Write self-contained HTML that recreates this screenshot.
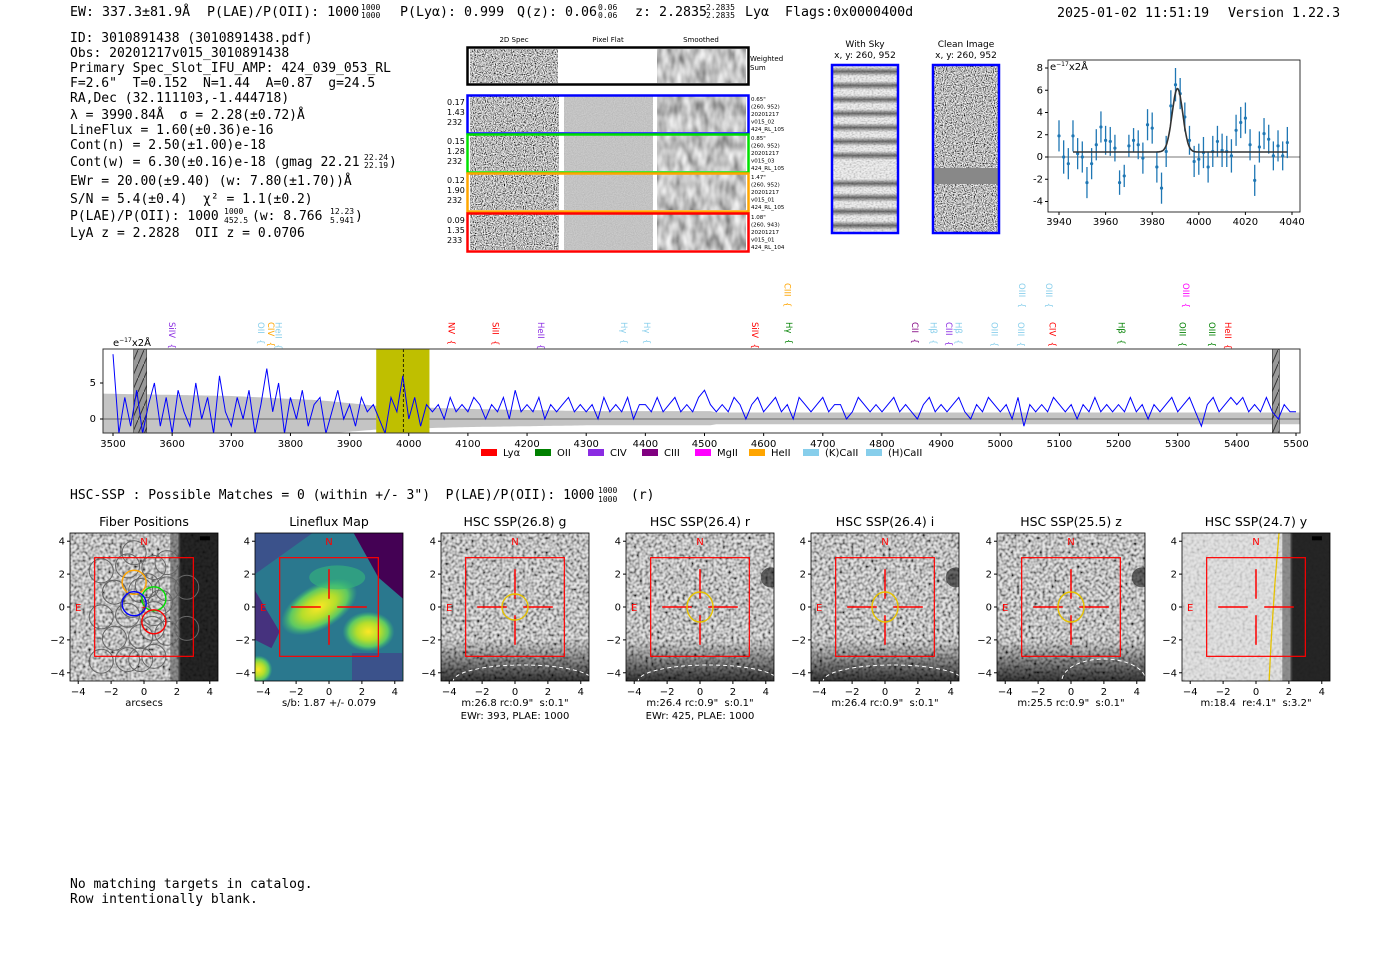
<!DOCTYPE html>
<html><head><meta charset="utf-8"><style>
html,body{margin:0;padding:0;background:#fff}
svg{display:block}
text{white-space:pre}
.mono{font-family:"DejaVu Sans Mono","Liberation Mono",monospace;font-size:13px;fill:#000}
.sans{font-family:"DejaVu Sans","Liberation Sans",sans-serif}
.tick{font-family:"DejaVu Sans","Liberation Sans",sans-serif;font-size:10px;fill:#000}
</style></head><body>
<svg id="root" width="1400" height="953" viewBox="0 0 1400 953" xmlns="http://www.w3.org/2000/svg" xml:space="preserve">
<defs>
<filter id="fine" x="0" y="0" width="100%" height="100%"><feTurbulence type="fractalNoise" baseFrequency="0.9" numOctaves="1" seed="3"/><feColorMatrix type="matrix" values="2.4 0 0 0 -0.7  2.4 0 0 0 -0.7  2.4 0 0 0 -0.7  0 0 0 0 1"/></filter>
<filter id="smooth" x="0" y="0" width="100%" height="100%"><feTurbulence type="fractalNoise" baseFrequency="0.12 0.06" numOctaves="2" seed="7"/><feColorMatrix type="matrix" values="1.1 0 0 0 0.0  1.1 0 0 0 0.0  1.1 0 0 0 0.0  0 0 0 0 1"/></filter>
<filter id="flat" x="0" y="0" width="100%" height="100%"><feTurbulence type="fractalNoise" baseFrequency="0.9" seed="2"/><feColorMatrix type="matrix" values="0.25 0 0 0 0.42  0.25 0 0 0 0.42  0.25 0 0 0 0.42  0 0 0 0 1"/></filter>
<filter id="sky" x="0" y="0" width="100%" height="100%"><feTurbulence type="fractalNoise" baseFrequency="0.5 0.7" numOctaves="1" seed="5"/><feColorMatrix type="matrix" values="1.6 0 0 0 0.0  1.6 0 0 0 0.0  1.6 0 0 0 0.0  0 0 0 0 1"/></filter>
<filter id="pix" x="0" y="0" width="100%" height="100%"><feTurbulence type="fractalNoise" baseFrequency="0.35" seed="9"/><feColorMatrix type="matrix" values="2.2 0 0 0 -0.5  2.2 0 0 0 -0.5  2.2 0 0 0 -0.5  0 0 0 0 1"/></filter>
<pattern id="hatch" width="6" height="14" patternUnits="userSpaceOnUse"><rect width="6" height="14" fill="#999"/><line x1="0" y1="14" x2="6" y2="0" stroke="#333" stroke-width="1"/></pattern>
<linearGradient id="skystripe" x1="0" y1="0" x2="0" y2="1"><stop offset="0" stop-color="#000" stop-opacity="0"/><stop offset="0.5" stop-color="#000" stop-opacity="0.55"/><stop offset="1" stop-color="#000" stop-opacity="0"/></linearGradient>
<linearGradient id="darkbottom" x1="0" y1="0" x2="0" y2="1"><stop offset="0" stop-color="#000" stop-opacity="0"/><stop offset="1" stop-color="#000" stop-opacity="0.75"/></linearGradient>
<radialGradient id="vir1"><stop offset="0" stop-color="#fde725"/><stop offset="0.45" stop-color="#b5de2b"/><stop offset="0.75" stop-color="#5ec962"/><stop offset="1" stop-color="#35b779" stop-opacity="0"/></radialGradient>
</defs>

<!-- Header -->
<g class="mono" style="font-size:13.3px">
<text x="70" y="16">EW: 337.3±81.9Å</text>
<text x="207" y="16">P(LAE)/P(OII): 1000</text>
<text x="361" y="10" style="font-size:8px">1000</text><text x="361" y="18" style="font-size:8px">1000</text>
<text x="400" y="16">P(Lyα): 0.999</text>
<text x="517" y="16">Q(z): 0.06</text>
<text x="598" y="10" style="font-size:8px">0.06</text><text x="598" y="18" style="font-size:8px">0.06</text>
<text x="635" y="16">z: 2.2835</text>
<text x="706" y="10" style="font-size:8px">2.2835</text><text x="706" y="18" style="font-size:8px">2.2835</text>
<text x="745" y="16">Lyα</text>
<text x="785" y="16">Flags:0x0000400d</text>
<text x="1057" y="17">2025-01-02 11:51:19</text>
<text x="1228" y="17">Version 1.22.3</text>
</g>

<!-- Info block -->
<g class="mono">
<text x="70" y="42">ID: 3010891438 (3010891438.pdf)</text>
<text x="70" y="57">Obs: 20201217v015_3010891438</text>
<text x="70" y="72">Primary Spec_Slot_IFU_AMP: 424_039_053_RL</text>
<text x="70" y="87">F=2.6"  T=0.152  N=1.44  A=0.87  g=24.5</text>
<text x="70" y="102">RA,Dec (32.111103,-1.444718)</text>
<text x="70" y="119">λ = 3990.84Å  σ = 2.28(±0.72)Å</text>
<text x="70" y="134">LineFlux = 1.60(±0.36)e-16</text>
<text x="70" y="149">Cont(n) = 2.50(±1.00)e-18</text>
<text x="70" y="166">Cont(w) = 6.30(±0.16)e-18 (gmag 22.21</text>
<text x="364" y="160" style="font-size:8px">22.24</text><text x="364" y="168" style="font-size:8px">22.19</text><text x="389" y="166">)</text>
<text x="70" y="185">EWr = 20.00(±9.40) (w: 7.80(±1.70))Å</text>
<text x="70" y="203">S/N = 5.4(±0.4)  χ² = 1.1(±0.2)</text>
<text x="70" y="220">P(LAE)/P(OII): 1000</text>
<text x="224" y="214" style="font-size:8px">1000</text><text x="224" y="223" style="font-size:8px">452.5</text>
<text x="252" y="220">(w: 8.766</text>
<text x="330" y="214" style="font-size:8px">12.23</text><text x="330" y="223" style="font-size:8px">5.941</text><text x="355" y="220">)</text>
<text x="70" y="237">LyA z = 2.2828  OII z = 0.0706</text>
</g>

<!-- 2D spectra cutouts -->
<g class="sans">
<text x="514" y="42" font-size="7" text-anchor="middle">2D Spec</text>
<text x="608" y="42" font-size="7" text-anchor="middle">Pixel Flat</text>
<text x="701" y="42" font-size="7" text-anchor="middle">Smoothed</text>
<g>
<rect x="470" y="49" width="88" height="34" filter="url(#fine)"/>
<rect x="657" y="49" width="89" height="34" filter="url(#smooth)"/>
<rect x="467.5" y="47.5" width="281" height="37" fill="none" stroke="#000" stroke-width="2.5"/>
<text x="750" y="61" font-size="7">Weighted</text><text x="750" y="70" font-size="7">Sum</text>
</g>
<g id="fibrows"></g>
</g>

<g class="sans">
<text x="865" y="47" font-size="9" text-anchor="middle">With Sky</text>
<text x="865" y="58" font-size="9" text-anchor="middle">x, y: 260, 952</text>
<rect x="832" y="65" width="66" height="168" fill="#ddd"/>
<rect x="832" y="65" width="66" height="168" filter="url(#sky)" opacity="0.5"/>
<g id="skystripes"></g>
<rect x="832" y="65" width="66" height="168" fill="none" stroke="#00f" stroke-width="2.5"/>
</g>
<g class="sans">
<text x="966" y="47" font-size="9" text-anchor="middle">Clean Image</text>
<text x="966" y="58" font-size="9" text-anchor="middle">x, y: 260, 952</text>
<rect x="933" y="65" width="66" height="168" filter="url(#fine)"/>
<rect x="933" y="168" width="66" height="16" fill="#888"/>
<rect x="933" y="65" width="66" height="168" fill="none" stroke="#00f" stroke-width="2.5"/>
</g>

<g id="zoomchart"></g>
<g id="specchart"></g>

<text class="mono" x="70" y="499">HSC-SSP : Possible Matches = 0 (within +/- 3")  P(LAE)/P(OII): 1000</text>
<text class="mono" x="598" y="493" style="font-size:8px">1000</text><text class="mono" x="598" y="502" style="font-size:8px">1000</text>
<text class="mono" x="631" y="499">(r)</text>

<g id="thumbs"></g>

<text class="mono" x="70" y="888">No matching targets in catalog.</text>
<text class="mono" x="70" y="903">Row intentionally blank.</text>
</svg>
<script>
const NS='http://www.w3.org/2000/svg';
function mk(tag,attrs,parent,txt){const e=document.createElementNS(NS,tag);for(const k in attrs)e.setAttribute(k,attrs[k]);if(txt!==undefined)e.textContent=txt;parent.appendChild(e);return e;}

// ---------- Fiber rows ----------
const fibColors=['#0000ff','#00e000','#ffa500','#ff0000'];
const fibStats=[['0.17','1.43','232'],['0.15','1.28','232'],['0.12','1.90','232'],['0.09','1.35','233']];
const fibInfo=[['0.65"','(260, 952)','20201217','v015_02','424_RL_105'],['0.85"','(260, 952)','20201217','v015_03','424_RL_105'],['1.47"','(260, 952)','20201217','v015_01','424_RL_105'],['1.08"','(260, 943)','20201217','v015_01','424_RL_104']];
const rowsG=document.getElementById('fibrows');
const rowY=[95,134,173,213];
for(let i=0;i<4;i++){
  const y=rowY[i],h=38;
  const g=mk('g',{},rowsG);
  
  
  mk('rect',{x:470,y:y+1,width:89,height:h-2,filter:'url(#fine)'},g);
  mk('rect',{x:564,y:y+1,width:89,height:h-2,filter:'url(#flat)'},g);
  mk('rect',{x:657,y:y+1,width:89,height:h-2,filter:'url(#smooth)'},g);
  mk('rect',{x:467.5,y:y+0.5,width:281,height:h,fill:'none',stroke:fibColors[i],'stroke-width':2.5},g);
  fibStats[i].forEach((s,j)=>mk('text',{x:447,y:y+10+j*10,'font-size':8},g,s));
  fibInfo[i].forEach((s,j)=>mk('text',{x:751,y:y+6+j*7.5,'font-size':5.5},g,s));
}
const ss=document.getElementById('skystripes');
for(let k=0;k<12;k++){ if(k===7) continue; mk('rect',{x:832,y:67+k*14,width:66,height:9,fill:'url(#skystripe)'},ss);}

// ---------- Line fit chart ----------
const fitWave=[3940,3942,3944,3946,3948,3950,3952,3954,3956,3958,3960,3962,3964,3966,3968,3970,3972,3974,3976,3978,3980,3982,3984,3986,3988,3990,3992,3994,3996,3998,4000,4002,4004,4006,4008,4010,4012,4014,4016,4018,4020,4022,4024,4026,4028,4030,4032,4034,4036,4038];
const fitFlux=[1.9,0,-0.6,1.9,0.3,0,-2.3,-0.6,1.1,2.7,1.5,1.4,0.8,-2.3,-1.7,1.0,1.5,1.1,-0.1,2.9,2.6,-0.9,-2.8,0.5,4.6,6.5,5.7,3.6,1.5,-0.4,-0.2,0.4,-0.9,0.5,1.4,0.6,0.5,0.1,2.4,3.1,3.5,1.1,-2.1,0.9,2.1,1.6,0.1,1.0,0.1,1.3];
const fitErr=[1.4,1.5,1.4,1.4,1.4,1.4,1.4,1.4,1.4,1.4,1.3,1.3,1.2,1.1,1.0,1.0,1.1,1.3,1.4,1.4,1.4,1.4,1.4,1.4,1.4,1.5,1.4,1.3,1.3,1.4,1.4,1.4,1.4,1.4,1.4,1.5,1.4,1.5,1.4,1.4,1.4,1.4,1.4,1.4,1.4,1.3,1.3,1.4,1.3,1.4];
const fitParams=[3990.84,2.28,5.7,0.45]; // center, sigma, amplitude, continuum
const fitXTicks=[3940,3960,3980,4000,4020,4040];
const fitYTicks=[-4,-2,0,2,4,6,8];
(function(){
  const g=document.getElementById('zoomchart');
  const X0=1048,X1=1300,Y0=60,Y1=212;
  const xs=w=>1059+(w-3940)*(1292-1059)/100;
  const ys=v=>157-v*(157-68)/8;
  mk('line',{x1:X0,x2:X1,y1:ys(0),y2:ys(0),stroke:'#777','stroke-width':1},g);
  for(let i=0;i<fitWave.length;i++){
    const p=mk('g',{},g);
    
    
    const x=xs(fitWave[i]);
    mk('line',{x1:x,x2:x,y1:ys(fitFlux[i]-fitErr[i]),y2:ys(fitFlux[i]+fitErr[i]),stroke:'#1f77b4','stroke-width':1.3},p);
    mk('circle',{cx:x,cy:ys(fitFlux[i]),r:1.6,fill:'#1f77b4'},p);
  }
  let d='';
  for(let w=3946;w<=4038;w+=0.25){const v=fitParams[3]+fitParams[2]*Math.exp(-0.5*Math.pow((w-fitParams[0])/fitParams[1],2));d+=(d?'L':'M')+xs(w).toFixed(1)+','+ys(v).toFixed(1);}
  const fl=mk('path',{d:d,fill:'none',stroke:'#333','stroke-width':1.6},g);
  
  
  mk('rect',{x:X0,y:Y0,width:X1-X0,height:Y1-Y0,fill:'none',stroke:'#000','stroke-width':0.8},g);
  fitXTicks.forEach(t=>{const x=xs(t);mk('line',{x1:x,x2:x,y1:Y1,y2:Y1+3,stroke:'#000'},g);const tt=mk('text',{x:x,y:Y1+13,'text-anchor':'middle',class:'tick','font-size':9},g,t);});
  fitYTicks.forEach(t=>{const y=ys(t);mk('line',{x1:X0-3,x2:X0,y1:y,y2:y,stroke:'#000'},g);mk('text',{x:X0-5,y:y+3,'text-anchor':'end',class:'tick','font-size':9},g,t);});
  const u=mk('text',{x:X0+2,y:Y0+10,class:'tick','font-size':9},g,'e');mk('tspan',{dy:-4,'font-size':6},u,'−17');mk('tspan',{dy:4},u,'x2Å');
})();

// ---------- Full spectrum ----------
const specStart=3500, specStep=10;
const specFlux=[9,-2,3,-1,4,-2,2,5,-1,3, -2,4,1,-1,5,0,3,-2,6,1, -1,3,0,4,-2,2,7,1,5,-2, 3,0,4,-1,2,3,-2,1,4,0, 2,-1,3,1,2,0,-2,3,1,6,
 0,3,-1,2,1,2,0,3,1,2, 1,3,2,0,2,1,3,0,4,1, 2,1,3,0,2,1,2,3,1,2, 1,2,0,3,1,2,1,3,0,2, 2,1,3,1,2,3,1,2,1,3,
 4,2,1,2,1,3,2,0,2,3, 1,2,3,1,2,0,3,2,1,2, 3,1,2,2,0,1,3,2,1,2, 1,2,3,1,2,1,0,2,3,1, 2,1,2,3,1,0,2,1,3,2,
 1,2,0,3,-1,2,1,2,1,3, 2,1,2,0,2,1,3,1,2,1, 2,1,3,1,2,0,2,1,2,3, 1,2,3,1,-1,2,3,1,2,3, 2,3,1,2,1,3,1,0,2,1, 1];
const errWave=[3500,3700,3850,3950,4100,4300,4510,4520,5500];
const errVal=[3.5,3.2,2.6,1.8,1.4,1.1,1.1,0.9,0.9];
const specXTicks=[3500,3600,3700,3800,3900,4000,4100,4200,4300,4400,4500,4600,4700,4800,4900,5000,5100,5200,5300,5400,5500];
const specYTicks=[0,5];
const lineNames=['SiIV','OII','CIV','HeII','NV','SiII','HeII','Hγ','Hγ','SiIV','Hγ','CIII','CII','Hβ','CIII','Hβ','OIII','OIII','OIII','OIII','CIV','Hβ','OIII','OIII','OIII','HeII'];
const lineWave=[3600,3750,3767,3780,4072,4147,4224,4364,4403,4585,4643,4640,4856,4887,4913,4929,4990,5035,5037,5082,5088,5205,5314,5308,5358,5385];
const lineColor=['#8a2be2','#87ceeb','#ffa500','#87ceeb','#ff0000','#ff0000','#8a2be2','#87ceeb','#87ceeb','#ff0000','#008000','#ffa500','#800080','#87ceeb','#8a2be2','#87ceeb','#87ceeb','#87ceeb','#87ceeb','#87ceeb','#ff0000','#008000','#ff00ff','#008000','#008000','#ff0000'];
const lineRow=[0,0,0,0,0,0,0,0,0,0,0,1,0,0,0,0,0,0,1,1,0,0,1,0,0,0];
const legendNames=['Lyα','OII','CIV','CIII','MgII','HeII','(K)CaII','(H)CaII'];
const legendColors=['#ff0000','#008000','#8a2be2','#800080','#ff00ff','#ffa500','#87ceeb','#87ceeb'];
(function(){
  const g=document.getElementById('specchart');
  const X0=103,X1=1300,Y0=349,Y1=433;
  const xs=w=>113+(w-3500)*(1296-113)/2000;
  const ys=v=>419-v*7.2;
  const clip=mk('clipPath',{id:'specclip'},g);mk('rect',{x:X0,y:Y0,width:X1-X0,height:Y1-Y0},clip);
  const inner=mk('g',{'clip-path':'url(#specclip)'},g);
  function errAt(w){for(let i=0;i<errWave.length-1;i++){if(w<=errWave[i+1]){const t=(w-errWave[i])/(errWave[i+1]-errWave[i]);return errVal[i]+t*(errVal[i+1]-errVal[i]);}}return errVal[errVal.length-1];}
  let up='',dn='';
  for(let w=3480;w<=5520;w+=5){up+=(up?'L':'M')+xs(w).toFixed(1)+','+ys(errAt(w)).toFixed(1);}
  for(let w=5520;w>=3480;w-=5){dn+='L'+xs(w).toFixed(1)+','+ys(-errAt(w)*0.8).toFixed(1);}
  const band=mk('path',{d:up+dn+'Z',fill:'#c4c4c4'},inner);
  
  mk('line',{x1:X0,x2:X1,y1:ys(0),y2:ys(0),stroke:'#666','stroke-width':1},inner);
  const yb=mk('rect',{x:xs(3945),y:Y0,width:xs(4035)-xs(3945),height:Y1-Y0,fill:'#bfbf00'},inner);
  
  mk('line',{x1:xs(3990.84),x2:xs(3990.84),y1:Y0,y2:Y1,stroke:'#000','stroke-dasharray':'3,2','stroke-width':0.8},inner);
  [[3535,3557],[5460,5472]].forEach(r=>{const m=mk('rect',{x:xs(r[0]),y:Y0,width:xs(r[1])-xs(r[0]),height:Y1-Y0,fill:'url(#hatch)',stroke:'#333','stroke-width':0.6},inner);});
  let d='';
  specFlux.forEach((v,i)=>{d+=(i?'L':'M')+xs(specStart+i*specStep).toFixed(1)+','+ys(v).toFixed(1);});
  const sp=mk('path',{d:d,fill:'none',stroke:'#0000ff','stroke-width':1},inner);
  
  mk('rect',{x:X0,y:Y0,width:X1-X0,height:Y1-Y0,fill:'none',stroke:'#333','stroke-width':1},g);
  specXTicks.forEach(t=>{const x=xs(t);mk('line',{x1:x,x2:x,y1:Y1,y2:Y1+3,stroke:'#000'},g);const tt=mk('text',{x:x,y:Y1+14,'text-anchor':'middle',class:'tick','font-size':9.5},g,t);});
  specYTicks.forEach(t=>{const y=ys(t);mk('line',{x1:X0-3,x2:X0,y1:y,y2:y,stroke:'#000'},g);mk('text',{x:X0-7,y:y+3,'text-anchor':'end',class:'tick','font-size':9.5},g,t);});
  const u=mk('text',{x:113,y:346,class:'tick','font-size':9.5},g,'e');mk('tspan',{dy:-4,'font-size':6},u,'−17');mk('tspan',{dy:4},u,'x2Å');
  lineNames.forEach((n,i)=>{
    const x=xs(lineWave[i]), y=lineRow[i]?283:322;
    const lt=mk('text',{x:0,y:0,transform:`translate(${x-3},${y}) rotate(90)`,'font-size':8.5,fill:lineColor[i],class:'sans'},g,n+'  {');
    
  });
  const lg=mk('g',{},g);
  const lx=[481,535,588,642,695,749,803,866];
  legendNames.forEach((n,i)=>{mk('rect',{x:lx[i],y:449,width:16,height:7,fill:legendColors[i]},lg);mk('text',{x:lx[i]+22,y:456,class:'tick','font-size':7.5},lg,n);});
})();

// ---------- Thumbnails ----------
const thumbTitles=['Fiber Positions','Lineflux Map','HSC SSP(26.8) g','HSC SSP(26.4) r','HSC SSP(26.4) i','HSC SSP(25.5) z','HSC SSP(24.7) y'];
const thumbSub1=['arcsecs','s/b: 1.87 +/- 0.079','m:26.8 rc:0.9"  s:0.1"','m:26.4 rc:0.9"  s:0.1"','m:26.4 rc:0.9"  s:0.1"','m:25.5 rc:0.9"  s:0.1"','m:18.4  re:4.1"  s:3.2"'];
const thumbSub2=['','','EWr: 393, PLAE: 1000','EWr: 425, PLAE: 1000','','',''];
const thumbTicks=[-4,-2,0,2,4];
const fiberX=[-2.6,-1,0.6,-1.8,-0.2,1.4,2.6,-2.6,-1,0.6,-1.8,-0.2,1.4,2.6,-2.6,-1,0.6,-1.8,-0.2,1.4,-0.7,0.2,1.0,0.5,-0.6];
const fiberY=[2.2,2.5,2.4,0.9,1.0,1.1,1.2,-0.6,-0.5,-0.4,-1.9,-1.8,-1.6,-1.3,-3.3,-3.2,-3.0,0.9,-3.2,2.7,0.1,1.3,0.3,-1.3,3.3];
(function(){
  const g=document.getElementById('thumbs');
  const lefts=[70,255,441,626,811,997,1182], W=148, T=533, H=148;
  lefts.forEach((L,k)=>{
    const p=mk('g',{},g);
    
    
    const xs=v=>L+(v+4.5)*W/9, ys=v=>T+(4.5-v)*H/9;
    const cid='tc'+k; const c=mk('clipPath',{id:cid},p); mk('rect',{x:L,y:T,width:W,height:H},c);
    const im=mk('g',{'clip-path':`url(#${cid})`},p);
    if(k===1){
      mk('rect',{x:L,y:T,width:W,height:H,fill:'#2a788e'},im);
      mk('polygon',{points:`${L},${T} ${xs(-1)},${T} ${L},${ys(2)}`,fill:'#3b528b'},im);
      mk('polygon',{points:`${xs(1.5)},${T} ${L+W},${T} ${L+W},${ys(0.5)} ${xs(3)},${ys(1.8)}`,fill:'#440154'},im);
      mk('polygon',{points:`${L},${ys(1)} ${xs(-3)},${ys(-1.5)} ${xs(-3.5)},${ys(-2.5)} ${L},${ys(-2)}`,fill:'#46327e'},im);
      mk('rect',{x:xs(1.4),y:ys(-2.8),width:50,height:40,fill:'#3b528b'},im);
      mk('ellipse',{cx:xs(-0.6),cy:ys(0),rx:42,ry:22,fill:'url(#vir1)',transform:`rotate(-30 ${xs(-0.6)} ${ys(0)})`},im);
      mk('ellipse',{cx:xs(2.4),cy:ys(-1.5),rx:26,ry:20,fill:'url(#vir1)'},im);
      mk('ellipse',{cx:xs(0.5),cy:ys(1.8),rx:28,ry:12,fill:'#35b779',opacity:0.6},im);
      mk('ellipse',{cx:xs(-4.3),cy:ys(-3.8),rx:14,ry:14,fill:'url(#vir1)'},im);
    } else {
      mk('rect',{x:L,y:T,width:W,height:H,fill:k===6?'#ddd':'#999'},im);
      mk('rect',{x:L,y:T,width:W,height:H,filter:'url(#pix)',opacity:k===6?0.2:0.75},im);
      if(k===0||k===6){mk('rect',{x:xs(2.1),y:T,width:W,height:H,fill:'#111',opacity:0.9},im);mk('rect',{x:xs(1.6),y:T,width:10,height:H,fill:'#555',opacity:0.6},im);mk('rect',{x:xs(3.4),y:ys(4.3),width:10,height:4,fill:'#000'},im);}
      if(k>=2&&k<=5){
        mk('rect',{x:L,y:ys(-2),width:W,height:ys(-4.5)-ys(-2),fill:'url(#darkbottom)'},im);
        if(k>=3){mk('circle',{cx:xs(4.3),cy:ys(1.8),r:10,fill:'#111',opacity:0.6},im);}
        mk('ellipse',{cx:xs(k===5?2:0.5),cy:ys(-4.5),rx:k===5?42:70,ry:k===5?22:16,fill:'none',stroke:'#fff','stroke-dasharray':'4,3','stroke-width':1},im);
      }
      if(k===0){
        fiberX.forEach((fx,i)=>mk('circle',{cx:xs(fx),cy:ys(fiberY[i]),r:12,fill:'none',stroke:'#666','stroke-width':1},im));
        [['#ffa500',-0.6,1.5],['#00e000',0.6,0.5],['#0000ff',-0.6,0.2],['#ff0000',0.6,-0.9]].forEach(f=>mk('circle',{cx:xs(f[1]),cy:ys(f[2]),r:12,fill:'none',stroke:f[0],'stroke-width':1.4},im));
      }
      if(k===6){mk('path',{d:`M${xs(1.4)},${T} Q${xs(1)},${ys(0)} ${xs(0.8)},${T+H}`,fill:'none',stroke:'#e6c200','stroke-width':1.3},im);}
    }
    const rb=mk('rect',{x:xs(-3),y:ys(3),width:xs(3)-xs(-3),height:ys(-3)-ys(3),fill:'none',stroke:'#ff0000','stroke-width':1.2},p);
    
    if(k>=1){
      const r='#ff0000',lw=1.5;
      mk('line',{x1:xs(-2.3),x2:xs(-0.5),y1:ys(0),y2:ys(0),stroke:r,'stroke-width':lw},p);
      mk('line',{x1:xs(0.5),x2:xs(2.3),y1:ys(0),y2:ys(0),stroke:r,'stroke-width':lw},p);
      mk('line',{x1:xs(0),x2:xs(0),y1:ys(2.3),y2:ys(0.5),stroke:r,'stroke-width':lw},p);
      mk('line',{x1:xs(0),x2:xs(0),y1:ys(-0.5),y2:ys(-2.3),stroke:r,'stroke-width':lw},p);
    } else { mk('text',{x:xs(0),y:ys(0)+4,'text-anchor':'middle',fill:'#f00','font-size':10},p,'+'); }
    if(k>=2&&k<=5){mk('ellipse',{cx:xs(0),cy:ys(0),rx:13,ry:k===2?13:15,fill:'none',stroke:'#e6c200','stroke-width':1.4},p);}
    mk('text',{x:xs(0),y:ys(4)+4,'text-anchor':'middle',fill:'#f00',class:'sans','font-size':10},p,'N');
    mk('text',{x:xs(-4),y:ys(0)+4,'text-anchor':'middle',fill:'#f00',class:'sans','font-size':10},p,'E');
    mk('rect',{x:L,y:T,width:W,height:H,fill:'none',stroke:'#000','stroke-width':0.8},p);
    const tt=mk('text',{x:L+W/2,y:T-7,'text-anchor':'middle',class:'sans','font-size':12.5},p,thumbTitles[k]);
    
    thumbTicks.forEach(t=>{
      mk('line',{x1:xs(t),x2:xs(t),y1:T+H,y2:T+H+3,stroke:'#000'},p);
      mk('text',{x:xs(t),y:T+H+14,'text-anchor':'middle',class:'tick'},p,t<0?'−'+(-t):t);
      mk('line',{x1:L-3,x2:L,y1:ys(t),y2:ys(t),stroke:'#000'},p);
      mk('text',{x:L-5,y:ys(t)+3.5,'text-anchor':'end',class:'tick'},p,t<0?'−'+(-t):t);
    });
    mk('text',{x:L+W/2,y:T+H+25,'text-anchor':'middle',class:'tick'},p,thumbSub1[k]);
    if(thumbSub2[k]) mk('text',{x:L+W/2,y:T+H+38,'text-anchor':'middle',class:'tick'},p,thumbSub2[k]);
  });
})();
</script>
</body></html>
